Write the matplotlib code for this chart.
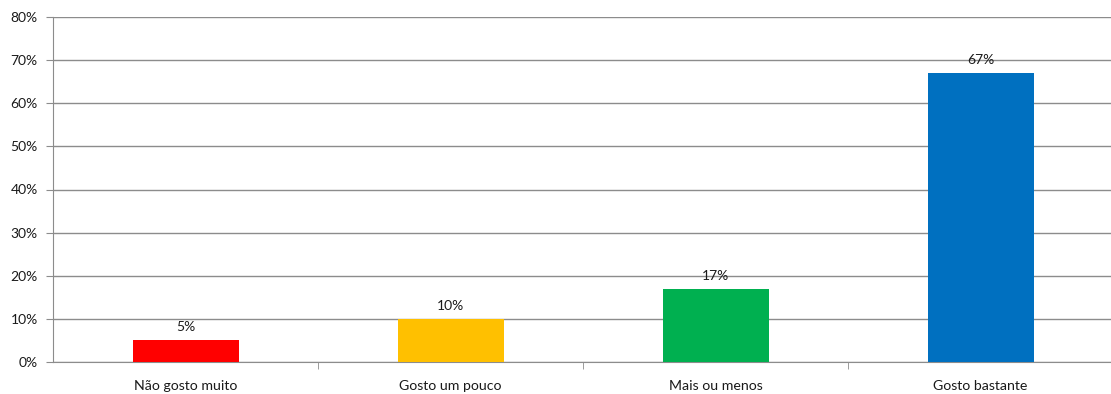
import matplotlib.pyplot as plt
from matplotlib.ticker import PercentFormatter

categories = ['Não gosto muito', 'Gosto um pouco', 'Mais ou menos', 'Gosto bastante']
values = [5, 10, 17, 67]
colors = ['#ff0000', '#ffc000', '#00b050', '#0070c0']
yticks = [0, 10, 20, 30, 40, 50, 60, 70, 80]


def main():
	'''draws the bar chart and saves it'''

	plt.rcParams['font.family'] = ['Lato', 'DejaVu Sans']
	fig = plt.figure(figsize=(11.11, 3.94), dpi=100)
	ax = fig.add_axes([53 / 1111, 32 / 394, 1060 / 1111, 345 / 394])

	x = range(len(categories))
	bars = ax.bar(x, values, width=0.4, color=colors, zorder=3)

	for bar, v in zip(bars, values):
		ax.annotate(f'{v}%', (bar.get_x() + bar.get_width() / 2, v),
			xytext=(0, 5), textcoords='offset points',
			ha='center', va='bottom', fontsize=10, color='#1a1a1a')

	ax.set_xlim(-0.5, len(categories) - 0.5)
	ax.set_ylim(0, 80)
	ax.set_yticks(yticks)
	ax.yaxis.set_major_formatter(PercentFormatter(decimals=0))
	ax.grid(axis='y', color='#8c8c8c', linewidth=1, zorder=0)

	ax.set_xticks(list(x))
	ax.set_xticklabels(categories)
	ax.set_xticks([i + 0.5 for i in range(len(categories) - 1)], minor=True)
	ax.tick_params(axis='x', which='major', length=0, pad=13, labelsize=10.2, labelcolor='#1a1a1a')
	ax.tick_params(axis='x', which='minor', length=5, color='#8c8c8c')
	ax.tick_params(axis='y', length=5, color='#8c8c8c', labelsize=10, pad=6, labelcolor='#1a1a1a')

	for side in ['top', 'right']:
		ax.spines[side].set_visible(False)
	for side in ['left', 'bottom']:
		ax.spines[side].set_color('#8c8c8c')

	fig.savefig('out.png', dpi=100)


if __name__ == '__main__':
	main()
